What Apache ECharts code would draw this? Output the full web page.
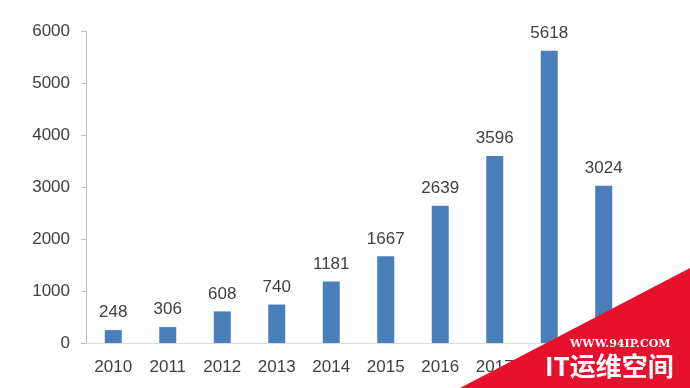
<!DOCTYPE html>
<html><head><meta charset="utf-8">
<script src="https://cdn.jsdelivr.net/npm/echarts@6/dist/echarts.min.js"></script>
<style>html,body{margin:0;padding:0;background:#fff}#c{width:690px;height:388px}</style>
</head><body><div id="c"></div>
<script>
const years = ['2010','2011','2012','2013','2014','2015','2016','2017','2018','2019'];
const counts = [248, 306, 608, 740, 1181, 1667, 2639, 3596, 5618, 3024];
const yTicks = [0, 1000, 2000, 3000, 4000, 5000, 6000];

const font = 'Liberation Sans, Arial, sans-serif';
const chart = echarts.init(document.getElementById('c'));
chart.setOption({
  animation: false,
  grid: {left: 86, right: 59, top: 31, bottom: 45},
  xAxis: {
    type: 'category', data: years,
    axisLine: {lineStyle: {color: '#d9d9d9', width: 1}},
    axisTick: {show: false},
    axisLabel: {color: '#404040', fontSize: 17, fontFamily: font, margin: 16}
  },
  yAxis: {
    type: 'value', min: yTicks[0], max: yTicks[yTicks.length-1], interval: 1000,
    axisLine: {show: true, lineStyle: {color: '#bfbfbf'}},
    axisTick: {show: true, length: 5, lineStyle: {color: '#bfbfbf'}},
    splitLine: {show: false},
    axisLabel: {color: '#404040', fontSize: 17, fontFamily: font, margin: 16, formatter: v => String(v)}
  },
  series: [{
    type: 'bar', data: counts, barWidth: 17,
    itemStyle: {color: '#4a7ebb'},
    label: {show: true, position: 'top', distance: 9, color: '#404040', fontSize: 17, fontFamily: font}
  }],
  graphic: [
    {type: 'polygon', shape: {points: [[460,388],[690,268],[690,388]]}, style: {fill: '#e8112d'}, z: 100},
    {type: 'text', left: 570, top: 339, style: {text: 'WWW.94IP.COM', fill: '#fff', font: 'bold 11px "DejaVu Serif", serif'}, z: 101},
    {type: 'text', left: 545, top: 353, style: {text: 'IT运维空间', fill: '#fff', font: 'bold 26px "Noto Sans CJK SC", sans-serif'}, z: 101}
  ]
});
</script></body></html>
